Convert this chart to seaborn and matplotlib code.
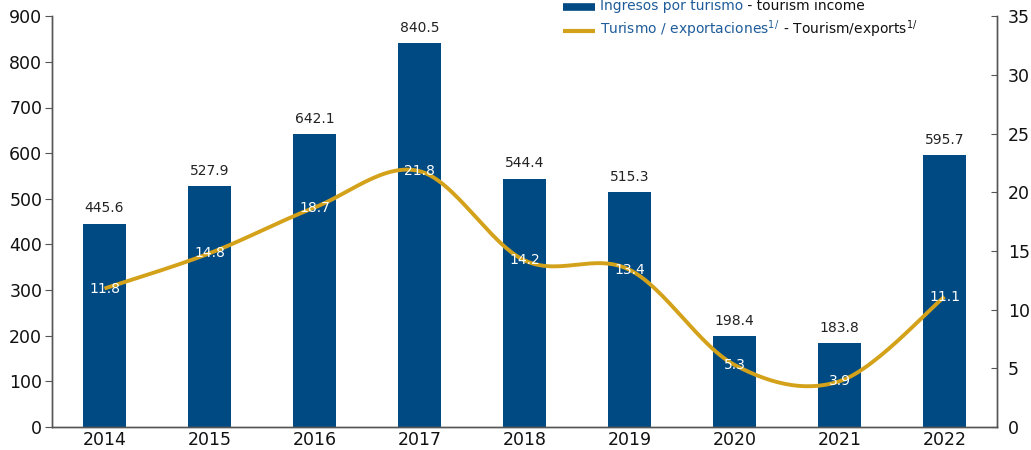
import numpy as np
import pandas as pd
import matplotlib
matplotlib.use("Agg")
import matplotlib.pyplot as plt
import seaborn as sns
from matplotlib.lines import Line2D

years = ["2014", "2015", "2016", "2017", "2018", "2019", "2020", "2021", "2022"]
income = [445.6, 527.9, 642.1, 840.5, 544.4, 515.3, 198.4, 183.8, 595.7]
share = [11.8, 14.8, 18.7, 21.8, 14.2, 13.4, 5.3, 3.9, 11.1]

navy = "#004A83"
gold = "#D4A21A"
blue_txt = "#1F5C99"


def smooth(xs, ys, n=30):
    # Catmull-Rom smoothing, similar to Excel's smoothed line
    xs = np.asarray(xs, float)
    ys = np.asarray(ys, float)
    px = np.concatenate([[xs[0]], xs, [xs[-1]]])
    py = np.concatenate([[ys[0]], ys, [ys[-1]]])
    ox, oy = [], []
    for i in range(1, len(px) - 2):
        t = np.linspace(0, 1, n)
        for p, o in ((px, ox), (py, oy)):
            p0, p1, p2, p3 = p[i - 1], p[i], p[i + 1], p[i + 2]
            c1 = p1 + (p2 - p0) / 6
            c2 = p2 - (p3 - p1) / 6
            o.extend((1 - t) ** 3 * p1 + 3 * (1 - t) ** 2 * t * c1
                     + 3 * (1 - t) * t ** 2 * c2 + t ** 3 * p2)
    return np.array(ox), np.array(oy)


sns.set_style("white")
plt.rcParams["font.family"] = ["DejaVu Sans"]

fig = plt.figure(figsize=(10.31, 4.5), dpi=100)
ax = fig.add_axes([0.0504, 0.051, 0.9166, 0.913])

df = pd.DataFrame({"year": years, "income": income, "share": share})
sns.barplot(data=df, x="year", y="income", color=navy, width=0.41,
            saturation=1, linewidth=0, ax=ax)
ax.set_xlim(-0.5, 8.5)
ax.set_ylim(0, 900)
ax.set_yticks(range(0, 901, 100))
ax.set_xlabel("")
ax.set_ylabel("")

for i, v in enumerate(income):
    ax.text(i, v + 18, f"{v:.1f}", ha="center", va="bottom", fontsize=10,
            color="#222222")

ax2 = ax.twinx()
sx, sy = smooth(np.arange(len(share)), share)
ax2.plot(sx, sy, color=gold, lw=2.8, solid_capstyle="butt")
ax2.set_ylim(0, 35)
ax2.set_yticks(range(0, 36, 5))
for i, v in enumerate(share):
    ax2.text(i, v, f"{v:.1f}", ha="center", va="center", fontsize=10,
             color="white")

for a in (ax, ax2):
    a.spines["top"].set_visible(False)
    for s in ("left", "right", "bottom"):
        a.spines[s].set_color("#555555")
        a.spines[s].set_linewidth(1.0)

ax.set_xticks(np.arange(9))
ax.set_xticklabels(years)
ax.set_xticks(np.arange(-0.5, 9, 1), minor=True)
ax.tick_params(axis="x", which="major", length=0, labelsize=12.5, pad=3,
               labelcolor="#111111")
ax.tick_params(axis="x", which="minor", length=7, direction="inout",
               color="#555555")
ax.tick_params(axis="y", length=5, direction="out", color="#555555",
               labelsize=12.5, pad=2, labelcolor="#111111")
ax2.tick_params(axis="y", length=4, direction="in", color="#555555",
                labelsize=12.5, pad=8, labelcolor="#111111")

# legend at the top, two-coloured labels
fig.add_artist(Line2D([563 / 1031, 595 / 1031], [1 - 7 / 450] * 2,
                      color=navy, lw=5.5, solid_capstyle="butt"))
fig.add_artist(Line2D([563 / 1031, 595 / 1031], [1 - 31 / 450] * 2,
                      color=gold, lw=3, solid_capstyle="butt"))
fig.text(600 / 1031, 1 - 6 / 450, "Ingresos por turismo", color=blue_txt,
         fontsize=10, va="center")
fig.text(600 / 1031, 1 - 29 / 450, "Turismo / exportaciones$^{1/}$",
         color=blue_txt, fontsize=10, va="center")
fig.canvas.draw()
t1, t2 = fig.texts
ax.annotate(" - tourism income", xy=(1, 0.5), xycoords=t1, va="center",
            fontsize=10, color="#111111", annotation_clip=False)
ax.annotate(" - Tourism/exports$^{1/}$", xy=(1, 0.5), xycoords=t2,
            va="center", fontsize=10, color="#111111",
            annotation_clip=False)

fig.savefig("out.png", dpi=100)
